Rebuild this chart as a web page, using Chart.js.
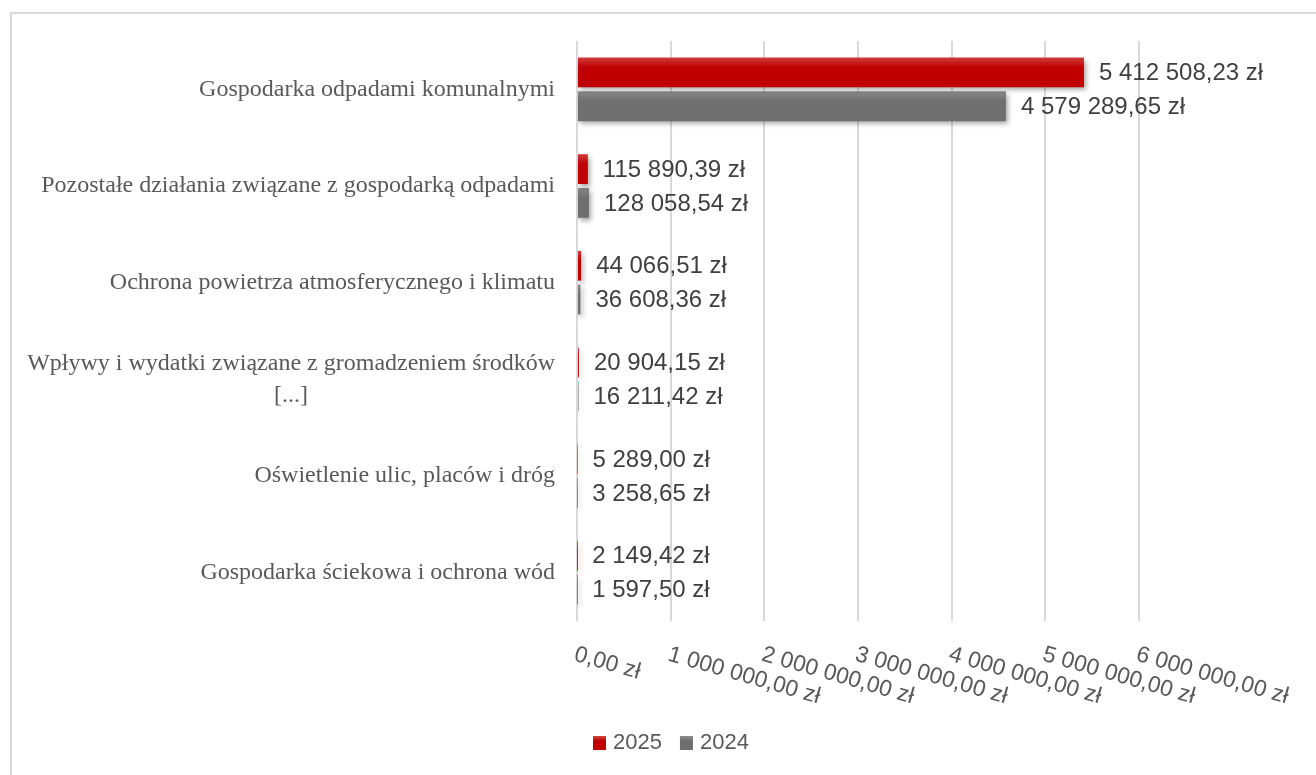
<!DOCTYPE html>
<html lang="pl">
<head>
    <meta charset="UTF-8">
    <title>Wydatki na ochronę środowiska</title>
    <script src="https://cdn.jsdelivr.net/npm/chart.js"></script>
    <style>
        html, body {
            margin: 0;
            padding: 0;
            background: #fff;
            overflow: hidden;
        }
        #frame {
            position: absolute;
            left: 10px;
            top: 12px;
            width: 1330px;
            height: 800px;
            border: 2px solid #d9d9d9;
        }
        #chartBox {
            position: absolute;
            left: 0;
            top: 0;
            width: 1316px;
            height: 775px;
        }
    </style>
</head>
<body>
    <div id="frame"></div>
    <div id="chartBox">
        <canvas id="chartCanvas"></canvas>
    </div>

    <script>
        // dane
        const categories = [
            "Gospodarka odpadami komunalnymi",
            "Pozostałe działania związane z gospodarką odpadami",
            "Ochrona powietrza atmosferycznego i klimatu",
            ["Wpływy i wydatki związane z gromadzeniem środków", "[...]"],
            "Oświetlenie ulic, placów i dróg",
            "Gospodarka ściekowa i ochrona wód"
        ];
        const seriesNames = ["2025", "2024"];
        const values2025 = [5412508.23, 115890.39, 44066.51, 20904.15, 5289.00, 2149.42];
        const values2024 = [4579289.65, 128058.54, 36608.36, 16211.42, 3258.65, 1597.50];
        const xTicks = [0, 1000000, 2000000, 3000000, 4000000, 5000000, 6000000];

        const CAT_PCT = 0.70;
        const BAR_PCT = 0.88;
        const RED = ["#d44848", "#c00000"];
        const GRAY = ["#8e8e8e", "#6f6f6f"];

        const SANS = "'Liberation Sans', Arial, sans-serif";
        const SERIF = "'Liberation Serif', 'Times New Roman', serif";

        // format "5 412 508,23 zł"
        function zl(v) {
            const parts = v.toFixed(2).split(".");
            const whole = parts[0].replace(/\B(?=(\d{3})+(?!\d))/g, " ");
            return whole + "," + parts[1] + " zł";
        }

        function vGradient(ctx, top, h, colors) {
            const g = ctx.createLinearGradient(0, top, 0, top + h);
            g.addColorStop(0, colors[0]);
            g.addColorStop(0.35, colors[1]);
            g.addColorStop(1, colors[1]);
            return g;
        }

        // pionowy gradient dla każdego słupka (jaśniejsza góra)
        function barFill(colors, dsIndex) {
            return function (c) {
                const chart = c.chart;
                const y = chart.scales && chart.scales.y;
                if (!y || c.type !== "data" || !isFinite(y.getPixelForValue(0))) return colors[1];
                const center = y.getPixelForValue(c.dataIndex);
                const band = Math.abs(y.getPixelForValue(1) - y.getPixelForValue(0));
                const slot = band * CAT_PCT / 2;
                const top = dsIndex === 0 ? center - slot : center;
                return vGradient(chart.ctx, top, slot, colors);
            };
        }

        // cień pod słupkami
        const barShadow = {
            id: "barShadow",
            beforeDatasetsDraw(chart) {
                const ctx = chart.ctx;
                ctx.save();
                ctx.shadowColor = "rgba(0,0,0,0.35)";
                ctx.shadowBlur = 5;
                ctx.shadowOffsetX = 2;
                ctx.shadowOffsetY = 3;
            },
            afterDatasetsDraw(chart) {
                chart.ctx.restore();
            }
        };

        // etykiety wartości przy słupkach
        const valueLabels = {
            id: "valueLabels",
            afterDatasetsDraw(chart) {
                const ctx = chart.ctx;
                ctx.save();
                ctx.font = "24px " + SANS;
                ctx.fillStyle = "#404040";
                ctx.textAlign = "left";
                ctx.textBaseline = "middle";
                chart.data.datasets.forEach((ds, i) => {
                    chart.getDatasetMeta(i).data.forEach((bar, j) => {
                        ctx.fillText(zl(ds.data[j]), bar.x + 15, bar.y + 1);
                    });
                });
                ctx.restore();
            }
        };

        // opisy kategorii, pochylone etykiety osi X i legenda
        const axisLabels = {
            id: "axisLabels",
            afterDraw(chart) {
                const ctx = chart.ctx;
                const y = chart.scales.y;
                const x = chart.scales.x;
                ctx.save();
                ctx.font = "24px " + SERIF;
                ctx.fillStyle = "#595959";
                ctx.textBaseline = "middle";
                const right = y.right - 22;
                categories.forEach((label, i) => {
                    const cy = y.getPixelForValue(i);
                    if (Array.isArray(label)) {
                        const w = Math.max(...label.map(t => ctx.measureText(t).width));
                        ctx.textAlign = "center";
                        const lh = 32;
                        const y0 = cy - (label.length - 1) * lh / 2;
                        label.forEach((t, k) => ctx.fillText(t, right - w / 2, y0 + k * lh));
                    } else {
                        ctx.textAlign = "right";
                        ctx.fillText(label, right, cy);
                    }
                });

                ctx.font = "23px " + SANS;
                ctx.textAlign = "left";
                ctx.textBaseline = "top";
                xTicks.forEach(v => {
                    ctx.save();
                    ctx.translate(x.getPixelForValue(v) + 1, x.top + 22);
                    ctx.rotate(16 * Math.PI / 180);
                    ctx.fillText(zl(v), 0, 0);
                    ctx.restore();
                });

                // legenda
                ctx.font = "22px " + SANS;
                ctx.textBaseline = "middle";
                const cols = [RED, GRAY];
                const ly = 743;
                let lx = 593;
                seriesNames.forEach((name, i) => {
                    ctx.fillStyle = vGradient(ctx, ly - 7, 14, cols[i]);
                    ctx.fillRect(lx, ly - 7, 13, 14);
                    ctx.fillStyle = "#595959";
                    ctx.fillText(name, lx + 20, ly);
                    lx += 20 + ctx.measureText(name).width + 18;
                });
                ctx.restore();
            }
        };

        const ctx = document.getElementById("chartCanvas").getContext("2d");
        new Chart(ctx, {
            type: "bar",
            data: {
                labels: categories,
                datasets: [
                    {
                        label: seriesNames[0],
                        data: values2025,
                        backgroundColor: barFill(RED, 0),
                        categoryPercentage: CAT_PCT,
                        barPercentage: BAR_PCT
                    },
                    {
                        label: seriesNames[1],
                        data: values2024,
                        backgroundColor: barFill(GRAY, 1),
                        categoryPercentage: CAT_PCT,
                        barPercentage: BAR_PCT
                    }
                ]
            },
            options: {
                indexAxis: "y",
                responsive: true,
                maintainAspectRatio: false,
                animation: false,
                layout: {
                    padding: { top: 41, left: 0, right: 177, bottom: 0 }
                },
                scales: {
                    x: {
                        type: "linear",
                        min: 0,
                        max: 6000000,
                        afterBuildTicks(scale) {
                            scale.ticks = xTicks.map(v => ({ value: v }));
                        },
                        afterFit(scale) {
                            scale.height = 154;
                        },
                        ticks: { display: false },
                        grid: {
                            color: "#d9d9d9",
                            lineWidth: 2,
                            drawTicks: false
                        },
                        border: { display: false }
                    },
                    y: {
                        type: "category",
                        afterFit(scale) {
                            scale.width = 577;
                        },
                        ticks: { display: false },
                        grid: { display: false },
                        border: { display: false }
                    }
                },
                plugins: {
                    legend: { display: false },
                    tooltip: { enabled: false }
                }
            },
            plugins: [barShadow, valueLabels, axisLabels]
        });
    </script>
</body>
</html>
